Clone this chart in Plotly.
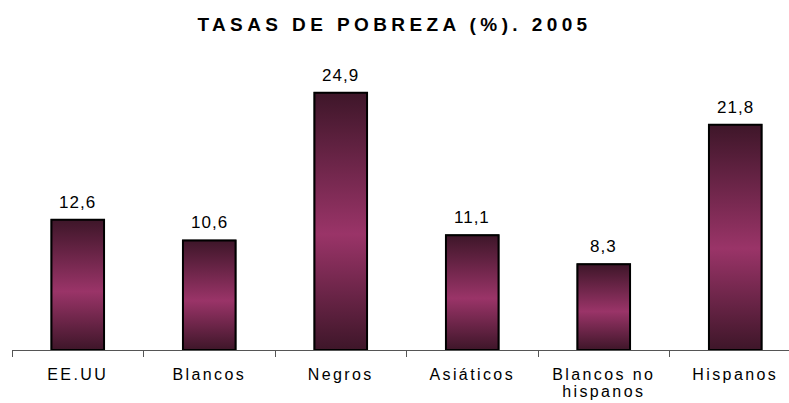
import plotly.graph_objects as go

categories = ["EE.UU", "Blancos", "Negros", "Asiáticos", "Blancos no<br>hispanos", "Hispanos"]
values = [12.6, 10.6, 24.9, 11.1, 8.3, 21.8]
title_text = "TASAS DE POBREZA (%). 2005"

BAR_W = 0.4
DARK = "#3e1629"
LIGHT = "#9a3468"
n = len(categories)
xs = list(range(n))

fig = go.Figure()

# base bars
fig.add_trace(go.Bar(
    x=xs, y=values, width=BAR_W,
    marker=dict(color="#7a2a52", line=dict(color="black", width=1.5)),
    hoverinfo="skip", showlegend=False,
))

# vertical gradient overlay for each bar (derived from the data)
for i, v in zip(xs, values):
    fig.add_trace(go.Scatter(
        x=[i - BAR_W / 2, i + BAR_W / 2, i + BAR_W / 2, i - BAR_W / 2, i - BAR_W / 2],
        y=[0, 0, v, v, 0],
        mode="lines", fill="toself",
        fillgradient=dict(type="vertical",
                          colorscale=[[0, DARK], [0.45, LIGHT], [1, DARK]]),
        line=dict(color="black", width=2),
        hoverinfo="skip", showlegend=False,
    ))

# value labels
for i, v in zip(xs, values):
    fig.add_annotation(
        x=i, y=v, yanchor="bottom", yshift=6, showarrow=False,
        text='<span style="letter-spacing:1px">' + f"{v:.1f}".replace(".", ",") + "</span>",
        font=dict(family="Liberation Sans, Arial, sans-serif", size=17, color="black"),
    )

SP = '<span style="letter-spacing:2.4px">'
SP2 = '<span style="letter-spacing:2.4px;baseline-shift:4px">'
ticktext = [SP + c.replace("<br>", "</span><br>" + SP2) + "</span>" for c in categories]

fig.update_layout(
    width=789, height=403,
    margin=dict(l=12, r=0, t=40, b=53),
    paper_bgcolor="white", plot_bgcolor="white",
    font=dict(family="Liberation Sans, Arial, sans-serif", color="black"),
    title=dict(
        text='<span style="letter-spacing:4.4px"><b>' + title_text + "</b></span>",
        x=0.5, xref="container", xanchor="center",
        y=1 - 24 / 403, yref="container", yanchor="middle",
        font=dict(size=19, color="black"),
    ),
    xaxis=dict(
        range=[-0.5, -0.5 + 777 / 131.5],
        tickmode="array", tickvals=xs, ticktext=ticktext, ticks="",
        tickfont=dict(size=16, color="black"),
        ticklabelstandoff=10,
        automargin=False,
        showline=True, linecolor="#555555", linewidth=1,
        showgrid=False, zeroline=False,
        minor=dict(tickmode="array", tickvals=[i - 0.5 for i in range(n + 1)],
                   ticks="outside", ticklen=6, tickcolor="#555555", tickwidth=1, showgrid=False),
        fixedrange=True,
    ),
    yaxis=dict(range=[0, 30], visible=False, showgrid=False, zeroline=False,
               fixedrange=True, automargin=False),
    showlegend=False,
)

fig.write_html("out.html", config={"displayModeBar": False},
               post_script="document.body.style.margin='0';document.body.style.padding='0';")
